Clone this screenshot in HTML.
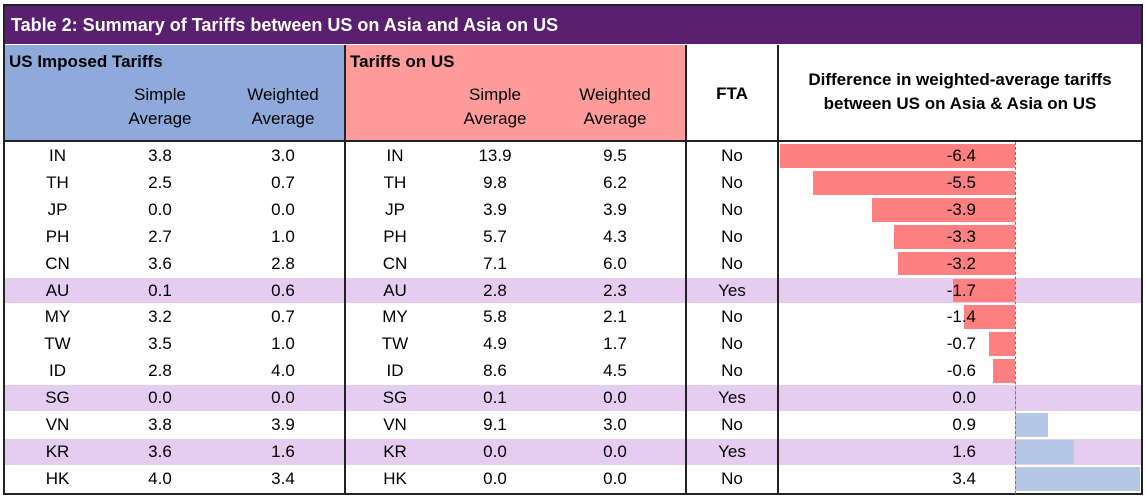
<!DOCTYPE html>
<html><head><meta charset="utf-8"><style>
body{margin:0;width:1146px;height:496px;background:#fff;font-family:"Liberation Sans",Arial,sans-serif;position:relative;overflow:hidden}
div{position:absolute;box-sizing:border-box}
.t{font-size:17px;color:#000;text-align:center;line-height:27px}
</style></head><body>
<div style="left:3px;top:4px;width:1140px;height:491px;border:2px solid #222"></div>
<div style="left:5px;top:6px;width:1136px;height:38px;background:#5b1f6f;color:#fff;font-weight:bold;font-size:18px;line-height:38px;padding-left:6px">Table 2: Summary of Tariffs between US on Asia and Asia on US</div>
<div style="left:5px;top:45px;width:340px;height:96px;background:#8eaadb"></div>
<div style="left:345px;top:45px;width:341px;height:96px;background:#ff9b9b"></div>
<div class="t" style="left:9px;top:48px;font-weight:bold;text-align:left">US Imposed Tariffs</div>
<div class="t" style="left:350px;top:48px;font-weight:bold;text-align:left">Tariffs on US</div>
<div class="t" style="left:100px;top:83px;width:120px;line-height:24px">Simple<br>Average</div>
<div class="t" style="left:223px;top:83px;width:120px;line-height:24px">Weighted<br>Average</div>
<div class="t" style="left:435px;top:83px;width:120px;line-height:24px">Simple<br>Average</div>
<div class="t" style="left:555px;top:83px;width:120px;line-height:24px">Weighted<br>Average</div>
<div class="t" style="left:686px;top:80px;width:92px;font-weight:bold">FTA</div>
<div class="t" style="left:778px;top:68px;width:364px;line-height:24px;font-weight:bold">Difference in weighted-average tariffs<br>between US on Asia &amp; Asia on US</div>
<div id="rows"></div>
<div style="left:5px;top:140px;width:1136px;height:2px;background:#222"></div>
<div style="left:344px;top:45px;width:2px;height:449px;background:#222"></div>
<div style="left:685px;top:45px;width:2px;height:449px;background:#222"></div>
<div style="left:777px;top:45px;width:2px;height:449px;background:#222"></div>
<div style="left:1015px;top:142px;width:0;height:352px;border-left:1px dashed #777"></div>
<script>
const countries=["IN","TH","JP","PH","CN","AU","MY","TW","ID","SG","VN","KR","HK"];
const usSimple=[3.8,2.5,0.0,2.7,3.6,0.1,3.2,3.5,2.8,0.0,3.8,3.6,4.0];
const usWeighted=[3.0,0.7,0.0,1.0,2.8,0.6,0.7,1.0,4.0,0.0,3.9,1.6,3.4];
const asiaSimple=[13.9,9.8,3.9,5.7,7.1,2.8,5.8,4.9,8.6,0.1,9.1,0.0,0.0];
const asiaWeighted=[9.5,6.2,3.9,4.3,6.0,2.3,2.1,1.7,4.5,0.0,3.0,0.0,0.0];
const fta=["No","No","No","No","No","Yes","No","No","No","Yes","No","Yes","No"];
const diff=[-6.4,-5.5,-3.9,-3.3,-3.2,-1.7,-1.4,-0.7,-0.6,0.0,0.9,1.6,3.4];
const x0=1015,scale=36.7,top0=142,rh=26.9;
const xs=v=>x0+v*scale;
const root=document.getElementById('rows');
function cell(txt,l,w,y,name){const d=document.createElement('div');d.className='t';d.style.left=l+'px';d.style.width=w+'px';d.style.top=y+'px';d.style.height=rh+'px';d.textContent=txt;


root.appendChild(d);return d;}
countries.forEach((c,i)=>{
 const y=top0+i*rh;
 if(fta[i]==="Yes"){const b=document.createElement('div');b.style.cssText=`left:5px;top:${y+1}px;width:1136px;height:${rh-1}px;background:#e4cdf1`;
 
 
 root.appendChild(b);}
 const v=diff[i];const bar=document.createElement('div');
 const a=xs(Math.min(v,0)),b2=xs(Math.max(v,0));
 bar.style.cssText=`left:${a}px;top:${y+2}px;width:${Math.max(b2-a,1)}px;height:${rh-3}px;background:${v<0?'#ff8080':'#b4c7e7'}`;
 
 
 root.appendChild(bar);
 cell(c,20,75,y,'us-country-'+c.toLowerCase());
 cell(usSimple[i].toFixed(1),100,120,y,'us-simple-'+c.toLowerCase());
 cell(usWeighted[i].toFixed(1),223,120,y,'us-weighted-'+c.toLowerCase());
 cell(c,355,80,y,'asia-country-'+c.toLowerCase());
 cell(asiaSimple[i].toFixed(1),435,120,y,'asia-simple-'+c.toLowerCase());
 cell(asiaWeighted[i].toFixed(1),555,120,y,'asia-weighted-'+c.toLowerCase());
 cell(fta[i],686,92,y,'fta-'+c.toLowerCase());
 const t=cell(v.toFixed(1),800,176,y,'diff-value-'+c.toLowerCase());t.style.textAlign='right';
});
</script>
</body></html>
